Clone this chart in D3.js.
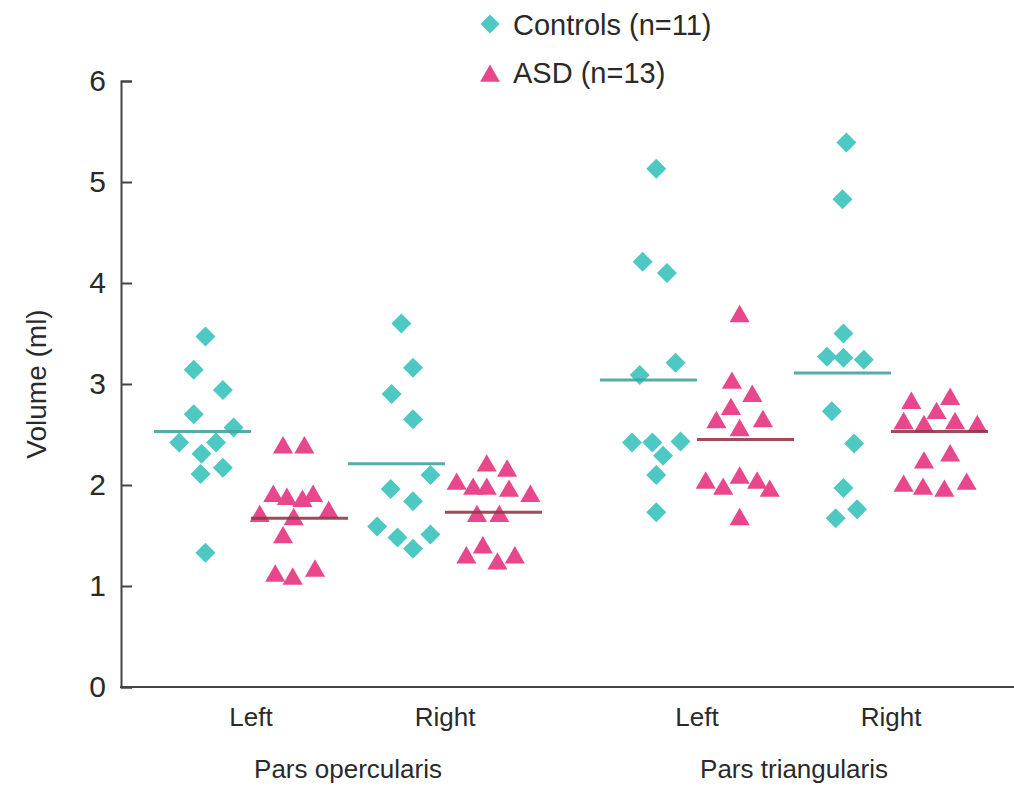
<!DOCTYPE html>
<html><head><meta charset="utf-8">
<script src="https://cdn.jsdelivr.net/npm/d3@7"></script>
<style>
body{margin:0;background:#fff;}
svg{display:block;}
text{font-family:"Liberation Sans",Arial,Helvetica,sans-serif;fill:#2a2a2a;}
</style>
</head><body>
<svg id="chart" width="1014" height="786"></svg>
<script>
// ---------- data ----------
const regions = ["Pars opercularis", "Pars triangularis"];
const sides = ["Left", "Right"];
const groups = ["Controls", "ASD"];
const legendLabels = ["Controls (n=11)", "ASD (n=13)"];
const yTicks = [0, 1, 2, 3, 4, 5, 6];
const yTitle = "Volume (ml)";

// volumes (ml) per subject
const ctrlOperLeft  = [3.47, 3.14, 2.94, 2.70, 2.57, 2.42, 2.42, 2.31, 2.17, 2.11, 1.33];
const asdOperLeft   = [2.37, 2.37, 1.89, 1.86, 1.84, 1.89, 1.69, 1.66, 1.73, 1.48, 1.10, 1.07, 1.15];
const ctrlOperRight = [3.60, 3.16, 2.90, 2.65, 2.10, 1.96, 1.84, 1.59, 1.51, 1.48, 1.37];
const asdOperRight  = [2.19, 2.14, 2.01, 1.96, 1.96, 1.94, 1.89, 1.69, 1.69, 1.28, 1.38, 1.22, 1.28];
const ctrlTriLeft   = [5.13, 4.21, 4.10, 3.21, 3.09, 2.42, 2.42, 2.43, 2.29, 2.10, 1.73];
const asdTriLeft    = [3.67, 3.01, 2.88, 2.75, 2.62, 2.63, 2.54, 2.02, 1.96, 2.07, 2.02, 1.94, 1.66];
const ctrlTriRight  = [5.39, 4.83, 3.50, 3.27, 3.26, 3.24, 2.73, 2.41, 1.97, 1.76, 1.67];
const asdTriRight   = [2.81, 2.85, 2.71, 2.61, 2.58, 2.61, 2.58, 2.29, 2.22, 1.99, 1.96, 1.94, 2.01];

// horizontal scatter of each subject within its group band (fraction of band, -0.5..0.5)
const ctrlOperLeftSpread  = [0.03, -0.09, 0.21, -0.09, 0.32, -0.24, 0.14, -0.01, 0.21, -0.02, 0.03];
const asdOperLeftSpread   = [-0.17, 0.05, -0.27, -0.13, 0.03, 0.14, -0.41, -0.06, 0.30, -0.17, -0.25, -0.07, 0.16];
const ctrlOperRightSpread = [0.05, 0.17, -0.05, 0.17, 0.35, -0.06, 0.17, -0.20, 0.35, 0.01, 0.17];
const asdOperRightSpread  = [-0.07, 0.14, -0.38, -0.21, -0.07, 0.16, 0.38, -0.17, 0.06, -0.28, -0.11, 0.04, 0.22];
const ctrlTriLeftSpread   = [0.08, -0.06, 0.19, 0.28, -0.09, -0.17, 0.04, 0.33, 0.15, 0.08, 0.08];
const asdTriLeftSpread    = [-0.06, -0.14, 0.07, -0.15, -0.30, 0.18, -0.06, -0.41, -0.23, -0.06, 0.12, 0.25, -0.06];
const ctrlTriRightSpread  = [0.04, 0.00, 0.01, -0.16, 0.01, 0.22, -0.11, 0.12, 0.01, 0.15, -0.07];
const asdTriRightSpread   = [-0.29, 0.11, -0.03, -0.37, -0.16, 0.16, 0.39, 0.11, -0.16, -0.37, -0.17, 0.05, 0.28];

// group mean lines as drawn in the figure
const meanValues = [2.53, 1.67, 2.21, 1.73, 3.04, 2.45, 3.11, 2.53];

// ---------- build series table ----------
const seriesTable = [
  {region: regions[0], side: sides[0], group: groups[0], values: ctrlOperLeft,  spread: ctrlOperLeftSpread,  mean: meanValues[0]},
  {region: regions[0], side: sides[0], group: groups[1], values: asdOperLeft,   spread: asdOperLeftSpread,   mean: meanValues[1]},
  {region: regions[0], side: sides[1], group: groups[0], values: ctrlOperRight, spread: ctrlOperRightSpread, mean: meanValues[2]},
  {region: regions[0], side: sides[1], group: groups[1], values: asdOperRight,  spread: asdOperRightSpread,  mean: meanValues[3]},
  {region: regions[1], side: sides[0], group: groups[0], values: ctrlTriLeft,   spread: ctrlTriLeftSpread,   mean: meanValues[4]},
  {region: regions[1], side: sides[0], group: groups[1], values: asdTriLeft,    spread: asdTriLeftSpread,    mean: meanValues[5]},
  {region: regions[1], side: sides[1], group: groups[0], values: ctrlTriRight,  spread: ctrlTriRightSpread,  mean: meanValues[6]},
  {region: regions[1], side: sides[1], group: groups[1], values: asdTriRight,   spread: asdTriRightSpread,   mean: meanValues[7]}
];

// ---------- layout ----------
const svg = d3.select("#chart");
const W = 1014, H = 786;
const axisX = 121, axisBottom = 687, axisTop = 81;

const colors = {Controls: "#4ec8c3", ASD: "#e8478b"};
const lineColors = {Controls: "#47a39f", ASD: "#8e3b47"};

const y = d3.scaleLinear().domain([0, 6]).range([axisBottom, axisTop]);
const xRegion = d3.scaleBand().domain(regions).range([154, 988]).paddingInner(0.13).paddingOuter(0);
const xSide = d3.scaleBand().domain(sides).range([0, xRegion.bandwidth()]);
const xGroup = d3.scaleBand().domain(groups).range([0, xSide.bandwidth()]);

const groupLeft = d => xRegion(d.region) + xSide(d.side) + xGroup(d.group);
const groupCenter = d => groupLeft(d) + xGroup.bandwidth() / 2;

// ---------- axes ----------
const yAxis = d3.axisLeft(y).tickValues(yTicks).tickFormat(d3.format("d"))
  .tickSizeInner(-11).tickSizeOuter(-11).tickPadding(15);
const gy = svg.append("g").attr("transform", `translate(${axisX},0)`).call(yAxis);
gy.select(".domain").attr("stroke", "#444").attr("stroke-width", 2);
gy.selectAll(".tick line").attr("stroke", "#444").attr("stroke-width", 2);
gy.selectAll(".tick text").attr("font-size", 30).attr("fill", "#2a2a2a")
  .style("font-family", "'Liberation Sans', Arial, sans-serif");

// x axis baseline
svg.append("line").attr("x1", axisX - 1).attr("x2", W).attr("y1", axisBottom).attr("y2", axisBottom)
  .attr("stroke", "#444").attr("stroke-width", 2);

// side labels (Left / Right) and region labels
regions.forEach(r => {
  const g = svg.append("g").attr("transform", `translate(${xRegion(r)},${axisBottom})`);
  const ax = d3.axisBottom(xSide).tickSize(0).tickPadding(21);
  g.call(ax);
  g.select(".domain").remove();
  g.selectAll(".tick text").attr("font-size", 26).attr("fill", "#2a2a2a")
    .style("font-family", "'Liberation Sans', Arial, sans-serif");
  svg.append("text").attr("x", xRegion(r) + xRegion.bandwidth() / 2).attr("y", 778)
    .attr("text-anchor", "middle").attr("font-size", 26).text(r);
});

// y title
svg.append("text")
  .attr("transform", `translate(46,${(axisTop + axisBottom) / 2}) rotate(-90)`)
  .attr("text-anchor", "middle").attr("font-size", 28).text(yTitle);

// ---------- marks ----------
const diamond = d3.symbol().type(d3.symbolSquare).size(200);
const triangle = d3.symbol().type(d3.symbolTriangle).size(175);
const shapeFor = g => g === "Controls" ? diamond() : triangle();
const rotFor = g => g === "Controls" ? 45 : 0;

seriesTable.forEach(s => {
  const pts = s.values.map((v, i) => ({v, j: s.spread[i]}));
  svg.append("g").selectAll("path").data(pts).join("path")
    .attr("d", shapeFor(s.group))
    .attr("transform", p => `translate(${groupCenter(s) + p.j * xGroup.bandwidth()},${y(p.v)}) rotate(${rotFor(s.group)})`)
    .attr("fill", colors[s.group]);
});

// mean lines drawn above the points
seriesTable.forEach(s => {
  svg.append("line")
    .attr("x1", groupLeft(s)).attr("x2", groupLeft(s) + xGroup.bandwidth())
    .attr("y1", y(s.mean)).attr("y2", y(s.mean))
    .attr("stroke", lineColors[s.group]).attr("stroke-width", 3).attr("opacity", 0.9);
});

// ---------- legend ----------
const legend = svg.append("g");
const legendPos = [{x: 490, y: 24, tx: 513, ty: 35}, {x: 490, y: 76, tx: 513, ty: 83}];
groups.forEach((g, i) => {
  legend.append("path")
    .attr("d", g === "Controls" ? d3.symbol().type(d3.symbolSquare).size(180)() : d3.symbol().type(d3.symbolTriangle).size(170)())
    .attr("transform", `translate(${legendPos[i].x},${legendPos[i].y}) rotate(${rotFor(g)})`)
    .attr("fill", colors[g]);
  legend.append("text").attr("x", legendPos[i].tx).attr("y", legendPos[i].ty)
    .attr("font-size", 29).text(legendLabels[i]);
});
</script>
</body></html>
